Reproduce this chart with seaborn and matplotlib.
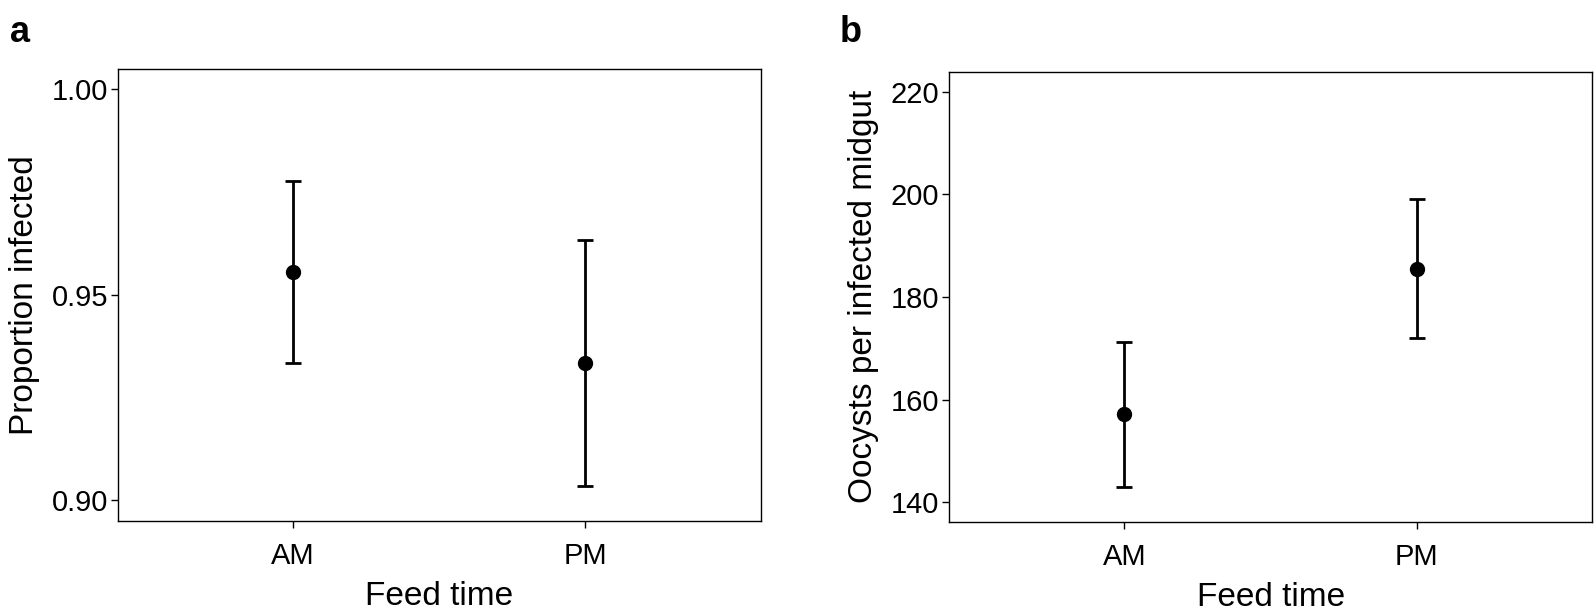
import matplotlib
matplotlib.use("Agg")
import matplotlib.pyplot as plt
import seaborn as sns
import pandas as pd

# values
feed_time = ["AM", "PM"]

prop_mean = [0.9555, 0.9333]
prop_lo   = [0.9334, 0.9034]
prop_hi   = [0.9776, 0.9632]

oocyst_mean = [157.2, 185.5]
oocyst_lo   = [143.0, 172.0]
oocyst_hi   = [171.2, 199.1]

prop_ticks   = [0.90, 0.95, 1.00]
oocyst_ticks = [140, 160, 180, 200, 220]

sns.set_style("white")
plt.rcParams["font.family"] = ["Liberation Sans", "DejaVu Sans"]
plt.rcParams["text.color"] = "black"
plt.rcParams["axes.labelcolor"] = "black"


def draw_panel(ax, mean, lo, hi, ylabel, yticks, ylim, fmt):
    df = pd.DataFrame({"Feed time": feed_time, "value": mean})
    yerr = [[m - l for m, l in zip(mean, lo)], [h - m for m, h in zip(mean, hi)]]
    ax.errorbar(range(len(feed_time)), mean, yerr=yerr, fmt="none",
                ecolor="black", elinewidth=2.0, capsize=6, capthick=2.0, zorder=2)
    sns.pointplot(data=df, x="Feed time", y="value", color="black",
                  linestyle="none", markers="o", markersize=9,
                  errorbar=None, ax=ax, zorder=3)
    ax.set_xlim(-0.6, 1.6)
    ax.set_ylim(*ylim)
    ax.set_yticks(yticks)
    ax.set_yticklabels([fmt.format(t) for t in yticks])
    ax.set_xlabel("Feed time", fontsize=24, labelpad=8)
    ax.set_ylabel(ylabel, fontsize=24, labelpad=8)
    ax.tick_params(axis="both", labelsize=21, length=5, width=1,
                   direction="out", colors="black", bottom=True, left=True)
    ax.tick_params(axis="x", pad=10)
    ax.tick_params(axis="y", pad=2)
    for s in ax.spines.values():
        s.set_color("black")
        s.set_linewidth(1.0)
        s.set_visible(True)


fig = plt.figure(figsize=(15.94, 6.16), dpi=100)
ax_a = fig.add_axes([0.0738, 0.1547, 0.4034, 0.7338])
ax_b = fig.add_axes([0.5952, 0.1531, 0.4038, 0.7300])

draw_panel(ax_a, prop_mean, prop_lo, prop_hi, "Proportion infected",
           prop_ticks, (0.895, 1.005), "{:.2f}")
draw_panel(ax_b, oocyst_mean, oocyst_lo, oocyst_hi, "Oocysts per infected midgut",
           oocyst_ticks, (136.2, 223.8), "{:.0f}")

fig.text(0.006, 0.975, "a", fontsize=26, fontweight="bold", va="top", ha="left")
fig.text(0.527, 0.975, "b", fontsize=26, fontweight="bold", va="top", ha="left")

fig.savefig("out.png", dpi=100)
